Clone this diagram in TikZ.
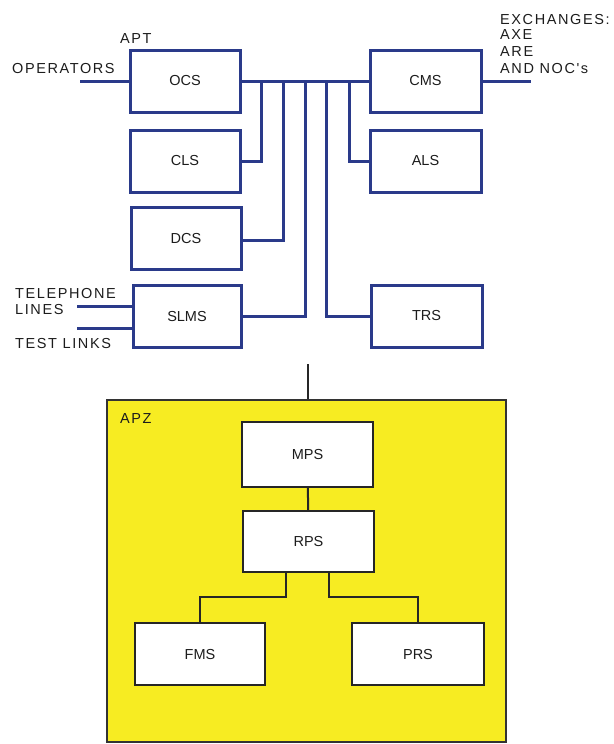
\documentclass[tikz,border=0pt]{standalone}
\usepackage{fontspec}
\setmainfont{Liberation Sans}
\newfontfamily\lblfont[LetterSpace=11]{Liberation Sans}
\definecolor{lineblue}{RGB}{42,58,138}
\definecolor{apzyellow}{RGB}{247,236,34}
\definecolor{txt}{RGB}{28,28,28}
\begin{document}
\begin{tikzpicture}[x=1pt,y=-1pt,
  bluebox/.style={draw=lineblue,line width=3pt,fill=white,minimum width=110pt,minimum height=62pt,inner sep=0pt,font=\fontsize{14.5}{17}\selectfont,text=txt},
  blackbox/.style={draw=black!85,line width=2pt,fill=white,minimum height=62pt,inner sep=0pt,font=\fontsize{14.5}{17}\selectfont,text=txt},
  bluewire/.style={draw=lineblue,line width=3pt},
  blackwire/.style={draw=black!85,line width=2pt},
  lbl/.style={anchor=base west,inner sep=0pt,font=\lblfont\fontsize{14.5}{17}\selectfont,text=txt}]
\useasboundingbox (0,0) rectangle (613,744);

% APT part
\node[bluebox] (ocs) at (185,81) {OCS};
\node[bluebox] (cls) at (185,161) {CLS};
\node[bluebox] (dcs) at (186,238.5) {DCS};
\node[bluebox,minimum width=108pt] (slms) at (187,316.5) {SLMS};
\node[bluebox,minimum width=111pt] (cms) at (425.5,81) {CMS};
\node[bluebox,minimum width=111pt] (als) at (425.5,161) {ALS};
\node[bluebox,minimum width=111pt] (trs) at (426.5,316) {TRS};

% labels
\node[lbl] (apt) at (120,43.5) {APT};
\node[lbl] (oper) at (12,73.5) {OPERATORS};
\node[lbl] (ex1) at (500,24) {EXCHANGES:};
\node[lbl] (ex2) at (500,39.5) {AXE};
\node[lbl] (ex3) at (500,56.5) {ARE};
\node[lbl] (ex4) at (500,73.5) {AND NOC's};
\node[lbl] (tel1) at (15,298) {TELEPHONE};
\node[lbl] (tel2) at (15,314.5) {LINES};
\node[lbl] (test) at (15,348.5) {TEST LINKS};

% free ends
\coordinate (opin) at (80,81);
\coordinate (exout) at (531,81);
\coordinate (telin) at (77,306);
\coordinate (testin) at (77,328);

% bus taps
\coordinate (b1) at (261,81);
\coordinate (b2) at (283,81);
\coordinate (b3) at (305,81);
\coordinate (b4) at (326,81);
\coordinate (b5) at (349,81);

\draw[bluewire] (ocs.east) -- (cms.west);
\draw[bluewire] (opin) -- (ocs.west);
\draw[bluewire] (cms.east) -- (exout);
\draw[bluewire] (telin) -- (telin -| slms.west);
\draw[bluewire] (testin) -- (testin -| slms.west);
\draw[bluewire] (cls.east) -| (b1);
\draw[bluewire] ([yshift=-1.5pt]dcs.east) -| (b2);
\draw[bluewire] (slms.east) -| (b3);
\draw[bluewire] (trs.west) -| (b4);
\draw[bluewire] (als.west) -| (b5);

% APZ part
\node[draw=black!80,line width=1.4pt,fill=apzyellow,minimum width=399pt,minimum height=342pt,inner sep=0pt] (apz) at (306.5,571) {};
\coordinate (apzin) at (308,364);
\draw[draw=black!85,line width=2pt] (apzin) -- (apzin |- apz.north);
\node[lbl] (apzl) at (120,423) {APZ};

\node[blackbox,minimum width=131pt,minimum height=65pt] (mps) at (307.5,454.5) {MPS};
\node[blackbox,minimum width=131pt,minimum height=61pt] (rps) at (308.5,541.5) {RPS};
\node[blackbox,minimum width=130pt] (fms) at (200,654) {FMS};
\node[blackbox,minimum width=132pt] (prs) at (418,654) {PRS};

\draw[blackwire] (mps) -- (rps);
\draw[blackwire] ([xshift=-22.5pt]rps.south) |- ([yshift=25pt]fms.north) -- (fms.north);
\draw[blackwire] ([xshift=20.5pt]rps.south) |- ([yshift=25pt]prs.north) -- (prs.north);
\end{tikzpicture}
\end{document}
